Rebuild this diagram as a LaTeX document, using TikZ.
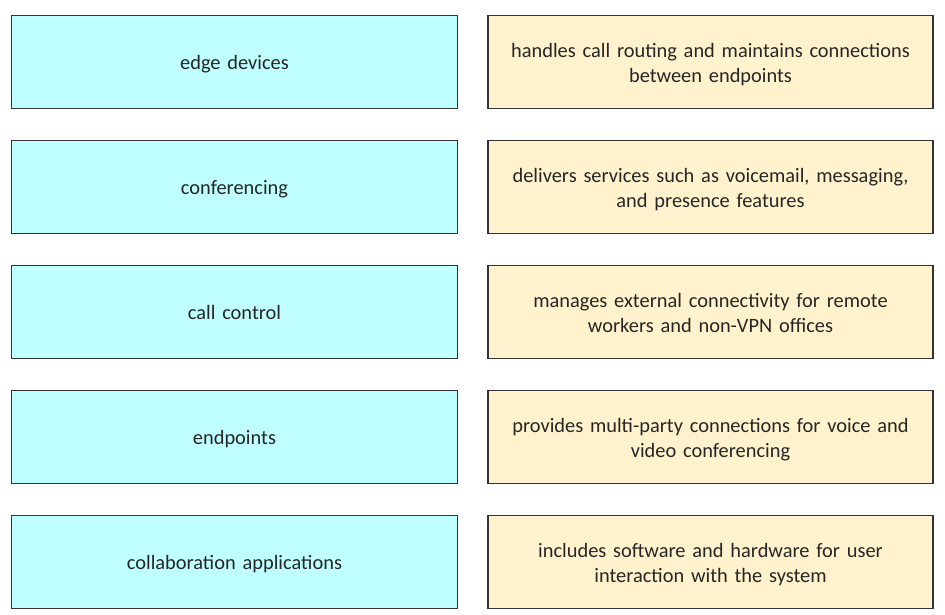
\documentclass[tikz,border=0pt]{standalone}
\usepackage{fontspec}
\setmainfont{Carlito}
\usetikzlibrary{positioning}
\definecolor{ccyan}{HTML}{BFFFFF}
\definecolor{cpeach}{HTML}{FFF2CC}
\definecolor{cline}{HTML}{333333}
\tikzset{
  every picture/.style={x=1pt, y=1pt, font=\fontsize{20.4}{25}\selectfont},
  box/.style={draw=cline, fill=#1, line width=1.2pt, align=center, text=black!85,
    minimum width=446pt, minimum height=93pt, inner sep=4pt, text width=430pt, text depth=0pt},
  box/.default=ccyan,
  descbox/.style={box=cpeach, minimum width=445pt, text depth=24pt},
}

\begin{document}
\begin{tikzpicture}
  \useasboundingbox (0,0) rectangle (945,-615);
  \foreach \i/\t/\d in {1/{edge devices}/{handles call routing and maintains connections\\between endpoints},
      2/{conferencing}/{delivers services such as voicemail, messaging,\\and presence features},
      3/{call control}/{manages external connectivity for remote\\workers and non-VPN offices},
      4/{endpoints}/{provides multi-party connections for voice and\\video conferencing},
      5/{collaboration applications}/{includes software and hardware for user\\interaction with the system}} {
    \node[box=ccyan] (term\i) at (234.5,-62-125*\i+125) {\t};
    \node[descbox] (desc\i) at (710.5,-62-125*\i+125) {\d};
  }
\end{tikzpicture}
\end{document}
